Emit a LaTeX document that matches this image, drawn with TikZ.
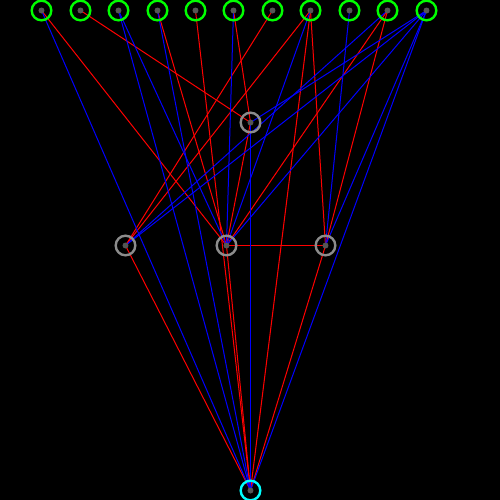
\documentclass[tikz,border=0pt]{standalone}
\begin{document}
\begin{tikzpicture}[x=0.5pt,y=-0.5pt]
\tikzset{
  poswt/.style={draw={rgb,255:red,255;green,0;blue,0}, line width=0.5pt},
  negwt/.style={draw={rgb,255:red,0;green,0;blue,255}, line width=0.5pt},
  ring/.style={circle, minimum size=9.8pt, inner sep=0pt, line width=1.2pt},
  inring/.style={ring, draw={rgb,255:red,0;green,255;blue,0}},
  hidring/.style={ring, draw={rgb,255:red,140;green,140;blue,140}},
  outring/.style={ring, draw={rgb,255:red,0;green,255;blue,255}},
  cdot/.style={fill={rgb,255:red,85;green,85;blue,85}, draw=none}
}
\fill[black] (0,0) rectangle (500,500);
\useasboundingbox (0,0) rectangle (500,500);
\begin{scope}[shift={(0.5,0.5)}]
% node positions
\coordinate (T1) at (41,10);
\coordinate (T2) at (80,10);
\coordinate (T3) at (118,10);
\coordinate (T4) at (157,10);
\coordinate (T5) at (195,10);
\coordinate (T6) at (233,10);
\coordinate (T7) at (272,10);
\coordinate (T8) at (310,10);
\coordinate (T9) at (349,10);
\coordinate (T10) at (387,10);
\coordinate (T11) at (426,10);
\coordinate (H) at (250,122);
\coordinate (M1) at (125,245);
\coordinate (M2) at (226,245);
\coordinate (M3) at (325,245);
\coordinate (O) at (250,490);
% positive (red) connections
\foreach \a/\b in {T1/M2,T2/H,T4/M2,T5/O,T6/H,T7/M1,T8/M1,T8/O,T8/M3,T10/M2,T10/M3,H/M2,M1/O,M2/O,M3/O,M2/M3}
  \draw[poswt] (\a) -- (\b);
% negative (blue) connections
\foreach \a/\b in {T1/O,T3/O,T3/M2,T4/O,T6/M2,T8/M2,T9/M3,T10/M1,T11/M1,T11/H,T11/M2,T11/M3,T11/O,H/O}
  \draw[negwt] (\a) -- (\b);
% rings
\foreach \n in {T1,T2,T3,T4,T5,T6,T7,T8,T9,T10,T11}
  \node[inring] (r\n) at (\n) {};
\foreach \n in {H,M1,M2,M3}
  \node[hidring] (r\n) at (\n) {};
\node[outring] (rO) at (O) {};
\foreach \n in {T1,T2,T3,T4,T5,T6,T7,T8,T9,T10,T11,H,M1,M2,M3,O}
  \fill[cdot] (\n) circle (1.5pt);
\end{scope}
\end{tikzpicture}
\end{document}
